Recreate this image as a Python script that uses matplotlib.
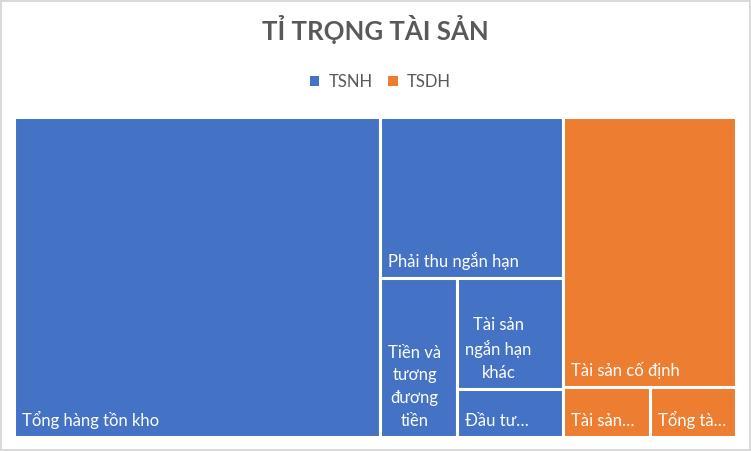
import matplotlib
matplotlib.use("Agg")
import matplotlib.pyplot as plt
from matplotlib.patches import Rectangle, Patch

plt.rcParams['font.family'] = ['Lato', 'DejaVu Sans']

# Data (ti trong %, doc tu hinh)
groups = ["TSNH", "TSDH"]
group_colors = ["#4472C4", "#ED7D31"]
tsnh_labels = ["Tổng hàng tồn kho", "Phải thu ngắn hạn", "Tiền và\ntương\nđương\ntiền",
               "Tài sản\nngắn hạn\nkhác", "Đầu tư…"]
tsnh_values = [50.7, 12.8, 5.3, 5.1, 2.2]
tsdh_labels = ["Tài sản cố định", "Tài sản…", "Tổng tà…"]
tsdh_values = [20.2, 1.86, 1.84]


def slice_layout(values, x, y, w, h):
    # moi o lay mot dai theo canh dai hon cua phan con lai
    rects = []
    total = float(sum(values))
    for v in values:
        frac = v / total if total > 0 else 1
        if w >= h:
            ww = w * frac
            rects.append((x, y, ww, h))
            x += ww
            w -= ww
        else:
            hh = h * frac
            rects.append((x, y, w, hh))
            y += hh
            h -= hh
        total -= v
    return rects


W, H = 722, 320.5
fig = plt.figure(figsize=(7.51, 4.51), dpi=100)
fig.patch.set_edgecolor("#D9D9D9")
fig.patch.set_linewidth(1.5)
ax = fig.add_axes([14 / 751, 14 / 451, W / 751, H / 451])
ax.set_xlim(0, W)
ax.set_ylim(H, 0)
ax.axis("off")

group_rects = slice_layout([sum(tsnh_values), sum(tsdh_values)], 0, 0, W, H)
pad = 8
for (gx, gy, gw, gh), labels, values, color in zip(
        group_rects, [tsnh_labels, tsdh_labels], [tsnh_values, tsdh_values], group_colors):
    for (x, y, w, h), lab in zip(slice_layout(values, gx, gy, gw, gh), labels):
        ax.add_patch(Rectangle((x, y), w, h, facecolor=color, edgecolor="white", lw=2.2))
        ax.text(x + pad, y + h - pad, lab, color="white", fontsize=12,
                ha="left", va="bottom", multialignment="center", linespacing=1.52)

fig.text(0.5, 1 - 30 / 451, "TỈ TRỌNG TÀI SẢN", ha="center", va="center",
         fontsize=18.5, fontweight="bold", color="#595959")
handles = [Patch(facecolor=c, label=g) for g, c in zip(groups, group_colors)]
fig.legend(handles=handles, loc="center", bbox_to_anchor=(0.5 + 5 / 751, 1 - 82 / 451), ncol=2,
           frameon=False, fontsize=12, labelcolor="#595959", handlelength=0.55,
           handleheight=0.55, handletextpad=0.55, columnspacing=0.95)

fig.savefig("out.png", dpi=100)
